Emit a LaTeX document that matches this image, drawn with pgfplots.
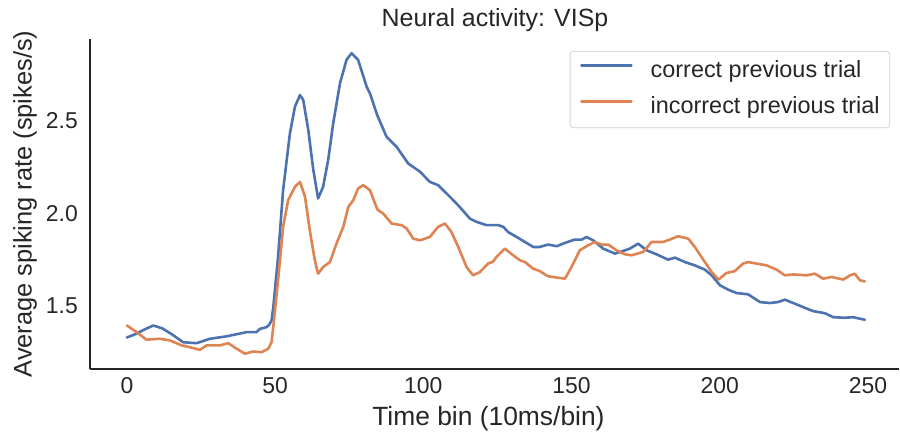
\documentclass[border=0pt]{standalone}
\usepackage{fontspec}
\setmainfont{Liberation Sans}
\usepackage{pgfplots}
\pgfplotsset{compat=1.18}
\definecolor{sbblue}{HTML}{4C72B0}
\definecolor{sborange}{HTML}{DD8452}
\definecolor{txt}{HTML}{262626}
\definecolor{legborder}{HTML}{D0D0D0}
\begin{document}
\begin{tikzpicture}
\begin{axis}[
  at={(0,0)}, anchor=south west,
  scale only axis, width=809bp, height=330bp,
  xmin=-12.45, xmax=260.5, ymin=1.155, ymax=2.945,
  axis x line*=bottom, axis y line*=left,
  axis line style={txt, line width=1.5bp, -},
  major tick length=0pt,
  xtick={0,50,...,250}, ytick={1.5,2.0,2.5},
  /pgf/number format/assume math mode=true,
  yticklabel={\pgfmathprintnumber[fixed,fixed zerofill,precision=1]{\tick}},
  ticklabel style={font=\fontsize{23}{27}\selectfont, text=txt, inner sep=0pt},
  xticklabel style={anchor=base, yshift=-24bp},
  yticklabel style={anchor=east, xshift=-12bp},
  title={Neural activity: VISp},
  title style={at={(axis description cs:0.5006,1.0212)}, anchor=base, font=\fontsize{25}{30}\selectfont, text=txt, inner sep=0pt},
  xlabel={Time bin (10ms/bin)},
  xlabel style={at={(axis description cs:0.4925,-0.170)}, anchor=base, font=\fontsize{26.5}{30}\selectfont, text=txt, inner sep=0pt},
  ylabel={Average spiking rate (spikes/s)},
  ylabel style={at={(axis description cs:-0.0803,0.5)}, anchor=center, rotate=0, font=\fontsize{25.5}{30}\selectfont, text=txt, inner sep=0pt},
  legend cell align=left,
  legend style={at={(0.989,0.964)}, anchor=north east, draw=legborder, line width=0.8bp, rounded corners=3bp,
    font=\fontsize{23.5}{28}\selectfont, text=txt, fill=white,
    inner xsep=10bp, inner ysep=9bp, row sep=14.5bp,
    nodes={inner sep=0pt, text height=17bp, text depth=5bp},
    /tikz/every odd column/.append style={column sep=18bp}},
  legend image code/.code={\draw[#1] (0bp,6bp) -- (50bp,6bp);},
  every axis plot/.append style={line width=2.6bp, line join=round, line cap=round},
]
\addplot[sbblue] coordinates {
(0,1.326) (3,1.345) (6,1.370) (8.9,1.391) (12,1.375) (15,1.345) (19,1.300) (23.5,1.295) (28,1.319) (33.6,1.332)
(40.4,1.355) (43.7,1.355) (44.9,1.373) (47.1,1.382) (48,1.395) (48.8,1.418) (49.4,1.491) (51,1.763) (52.7,2.125)
(55,2.433) (56.7,2.578) (58.4,2.641) (59.5,2.614) (61.2,2.451) (62.9,2.234) (64.5,2.080) (66.2,2.143) (67.9,2.288)
(69.6,2.487) (71.9,2.705) (74.1,2.832) (75.8,2.868) (78,2.832) (80.9,2.686) (82,2.650) (84.5,2.530) (87.6,2.415)
(91,2.360) (94.9,2.270) (98.9,2.225) (102.2,2.170) (105,2.152) (109,2.089) (112.3,2.034) (115.7,1.971) (118,1.953)
(121.4,1.935) (125.3,1.935) (127,1.926) (128.6,1.898) (131.5,1.871) (134.3,1.844) (137.1,1.817) (139.3,1.817)
(142.1,1.830) (145,1.821) (147.8,1.839) (151.1,1.857) (153.4,1.857) (155.1,1.871) (157.3,1.853) (160.7,1.808)
(164.6,1.781) (167.4,1.795) (169.7,1.808) (172.5,1.835) (175.3,1.799) (178.7,1.777) (182.6,1.748) (184.9,1.759)
(188.3,1.735) (191.6,1.717) (195,1.694) (197.3,1.663) (200.1,1.609) (202.9,1.585) (205.7,1.567) (209.6,1.560)
(213.6,1.518) (216.9,1.513) (219.7,1.518) (222,1.531) (225.4,1.509) (228.7,1.487) (231.5,1.469) (235.4,1.458)
(238.3,1.436) (242.2,1.433) (245,1.436) (247.3,1.428) (249,1.422)
};
\addlegendentry{correct previous trial}
\addplot[sborange] coordinates {
(0,1.391) (3.3,1.355) (6.6,1.314) (11.1,1.319) (14.5,1.310) (18.5,1.283) (21.3,1.273) (24.6,1.259) (26.9,1.283)
(31.4,1.283) (34.2,1.295) (37,1.265) (39.8,1.238) (42.6,1.250) (45.4,1.246) (47.7,1.265) (48.8,1.300) (49.5,1.400)
(51,1.636) (52.7,1.926) (54.4,2.071) (56.7,2.143) (58.4,2.170) (60.1,2.089) (61.7,1.908) (63.4,1.745) (64.5,1.672)
(66.2,1.708) (68.5,1.735) (70.7,1.835) (73,1.926) (74.7,2.034) (76.4,2.071) (78,2.134) (79.7,2.152) (82,2.125)
(84.5,2.020) (86.5,1.998) (89.3,1.944) (92.7,1.935) (94.4,1.917) (96.6,1.862) (98.9,1.853) (102.2,1.871) (105,1.926)
(107.3,1.944) (109.5,1.898) (111.8,1.817) (114.6,1.708) (116.8,1.663) (119.1,1.681) (121.9,1.727) (123.5,1.737)
(124.7,1.763) (125.8,1.781) (127.5,1.808) (130.3,1.772) (132.6,1.745) (134.3,1.735) (137.1,1.699) (139.3,1.686)
(142.1,1.658) (145,1.651) (147.8,1.645) (150,1.708) (152.8,1.799) (155.6,1.826) (157.9,1.844) (160.2,1.830)
(162.4,1.830) (165.2,1.799) (168,1.777) (170.3,1.772) (174.2,1.790) (177,1.844) (180.9,1.844) (183.2,1.857)
(186,1.875) (189.4,1.862) (191.6,1.817) (195,1.735) (197.3,1.681) (199.6,1.640) (202.3,1.676) (205.1,1.686)
(207.9,1.727) (209.6,1.735) (212.4,1.727) (215.8,1.717) (219.2,1.694) (222,1.663) (224.8,1.668) (229.3,1.663)
(232.1,1.672) (234.9,1.645) (237.8,1.654) (241.7,1.640) (244,1.663) (245.6,1.672) (247.3,1.636) (249,1.630)
};
\addlegendentry{incorrect previous trial}
\end{axis}
\pgfresetboundingbox
\path (-90bp,-66bp) rectangle (810bp,369bp);
\end{tikzpicture}
\end{document}
